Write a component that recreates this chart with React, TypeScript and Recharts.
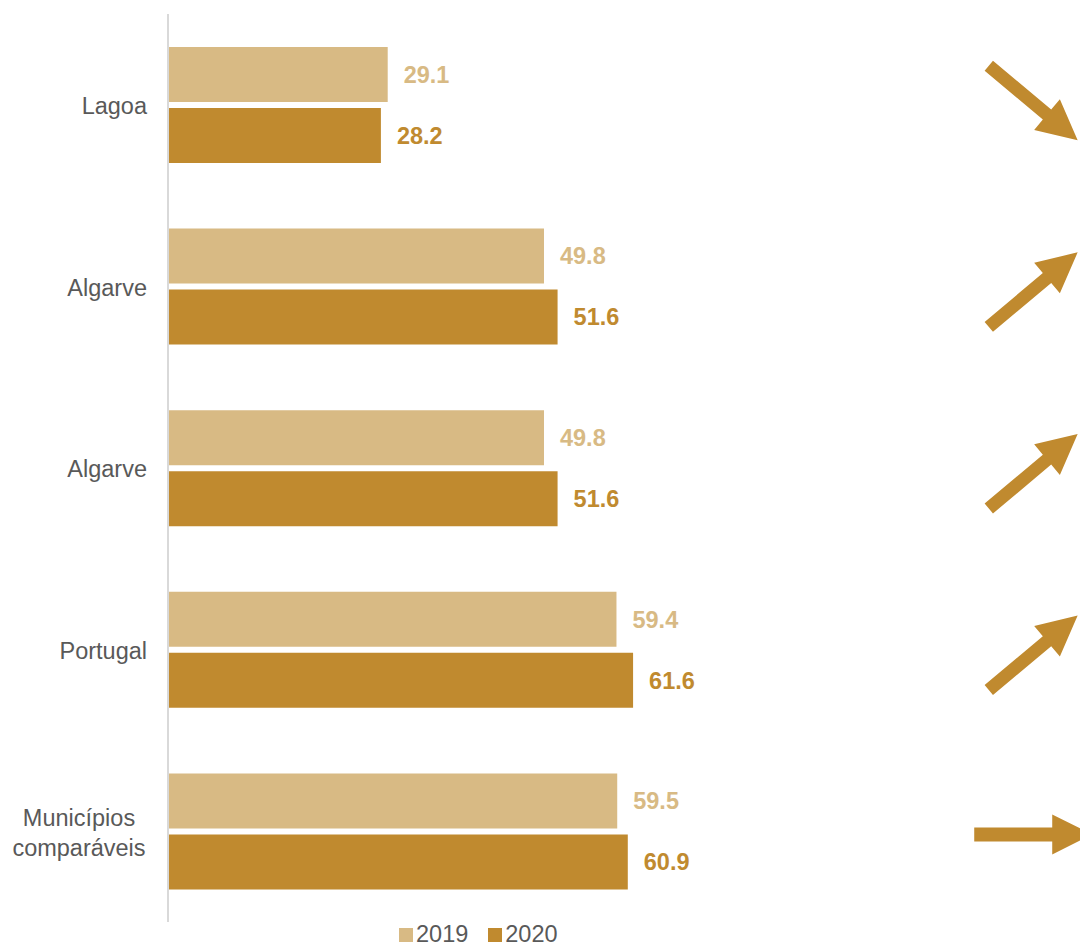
import React from 'react';
import { BarChart, Bar, XAxis, YAxis, LabelList, Legend } from 'recharts';

const categories = ['Lagoa', 'Algarve', 'Algarve', 'Portugal', 'Municípios comparáveis'];
const values2019 = [29.1, 49.8, 49.8, 59.4, 59.5];
const values2020 = [28.2, 51.6, 51.6, 61.6, 60.9];
const trends = ['down', 'up', 'up', 'up', 'flat'];
const arrowPosition = 114.6; // x-position (data units) of trend arrows

const data = categories.map((name, i) => ({
  name,
  v2019: values2019[i],
  v2020: values2020[i],
  trend: trends[i],
}));

const LIGHT = '#D8BA84';
const DARK = '#C08A2F';
const GRAY = '#595959';
const FONT = '"Liberation Sans", Arial, sans-serif';
const FS = 23.5;

const CategoryTick = (props: any) => {
  const { x, y, payload } = props;
  const words = String(payload.value).split(' ');
  if (words.length > 1) {
    const lh = 30;
    const start = y - ((words.length - 1) * lh) / 2;
    return (
      <text x={x - 68} y={start} textAnchor="middle" fill={GRAY} fontSize={FS} fontFamily={FONT}>
        {words.map((w: string, i: number) => (
          <tspan key={i} x={x - 68} y={start + i * lh + 1} dy="0.355em">
            {w}
          </tspan>
        ))}
      </text>
    );
  }
  return (
    <text x={x} y={y + 1} dy="0.355em" textAnchor="end" fill={GRAY} fontSize={FS} fontFamily={FONT}>
      {payload.value}
    </text>
  );
};

const ArrowLabel = (props: any) => {
  const { x, y, width, value, index } = props;
  if (!value) return null;
  const scale = width / value;
  const trend = trends[index];
  const cx = x + arrowPosition * scale;
  const cy = trend === 'down' ? y - 5 : y;
  const L = trend === 'flat' ? 118 : 116;
  const angle = trend === 'down' ? 40 : trend === 'up' ? -40 : 0;
  const sw = trend === 'flat' ? 7 : 6.5;
  const hl = 40;
  const hw = 20;
  const h = L / 2;
  const pts = [
    [-h, -sw],
    [h - hl, -sw],
    [h - hl, -hw],
    [h, 0],
    [h - hl, hw],
    [h - hl, sw],
    [-h, sw],
  ]
    .map((p) => p.join(','))
    .join(' ');
  return (
    <polygon
      points={pts}
      fill={DARK}
      transform={`translate(${cx},${cy}) rotate(${angle})`}
    />
  );
};

const renderLegend = (props: any) => {
  const { payload } = props;
  return (
    <div style={{ display: 'flex', justifyContent: 'flex-start', paddingLeft: 399, fontFamily: FONT }}>
      {payload.map((p: any, i: number) => (
        <div key={i} style={{ display: 'flex', alignItems: 'center', marginRight: 20 }}>
          <span style={{ display: 'inline-block', width: 14, height: 14, background: p.color, marginRight: 3, marginTop: 2 }} />
          <span style={{ color: GRAY, fontSize: FS, lineHeight: '24px' }}>{p.value}</span>
        </div>
      ))}
    </div>
  );
};

export default function App() {
  return (
    <div style={{ position: 'absolute', left: 0, top: 0, width: 1080, height: 946, overflow: 'hidden', background: '#fff' }}>
      <BarChart
        width={1080}
        height={946}
        data={data}
        layout="vertical"
        margin={{ top: 14, right: 6, bottom: 0, left: 0 }}
        barGap={6}
        barSize={55}
      >
        <XAxis type="number" domain={[0, 120]} hide />
        <YAxis
          type="category"
          dataKey="name"
          width={168}
          axisLine={{ stroke: '#D9D9D9', strokeWidth: 2 }}
          tickLine={false}
          tickMargin={15}
          tick={<CategoryTick />}
          interval={0}
        />
        <Legend verticalAlign="bottom" height={24} content={renderLegend} />
        <Bar dataKey="v2019" name="2019" fill={LIGHT} isAnimationActive={false}>
          <LabelList
            dataKey="v2019"
            position="right"
            offset={16}
            fill={LIGHT}
            fontSize={FS}
            fontWeight="bold"
            fontFamily={FONT}
            formatter={(v: any) => Number(v).toFixed(1)}
          />
        </Bar>
        <Bar dataKey="v2020" name="2020" fill={DARK} isAnimationActive={false}>
          <LabelList
            dataKey="v2020"
            position="right"
            offset={16}
            fill={DARK}
            fontSize={FS}
            fontWeight="bold"
            fontFamily={FONT}
            formatter={(v: any) => Number(v).toFixed(1)}
          />
          <LabelList dataKey="v2020" content={<ArrowLabel />} />
        </Bar>
      </BarChart>
    </div>
  );
}
